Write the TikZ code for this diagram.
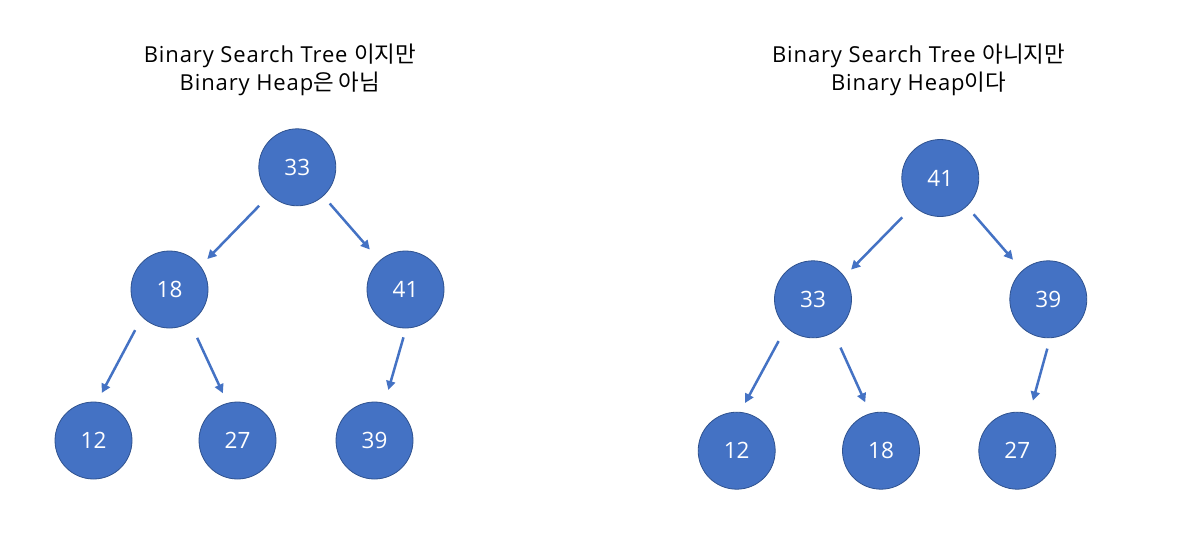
\documentclass[tikz,border=0pt]{standalone}
\usepackage{fontspec}
\setmainfont{Open Sans}
\newfontfamily\titlefont[LetterSpace=4]{Open Sans}
\newfontfamily\kr[Scale=1.02]{Noto Sans CJK KR}
\usetikzlibrary{arrows.meta}
\definecolor{nodefill}{HTML}{4472C4}
\definecolor{nodeline}{HTML}{2F528F}
\tikzset{
  treenode/.style={circle, fill=nodefill, draw=nodeline, line width=0.8pt,
    minimum size=77pt, inner sep=0pt, outer sep=0pt, text=white,
    font=\fontsize{22.5}{26}\selectfont},
  treearrow/.style={draw=nodefill, line width=2.5pt,
    -{Triangle[length=9pt,width=9pt]}},
  titletext/.style={align=center, font=\titlefont\fontsize{22}{28}\selectfont, text=black}
}
\begin{document}
\begin{tikzpicture}[x=1pt,y=-1pt]
\fill[white] (0,0) rectangle (1192,536);
\useasboundingbox (0,0) rectangle (1192,536);

% left tree
\node[titletext] (tl) at (280,70) {Binary Search Tree {\kr 이지만}\\Binary Heap{\kr 은 아님}};
\node[treenode] (a33) at (297.3,167.3) {33};
\node[treenode] (a18) at (169.5,289.5) {18};
\node[treenode] (a41) at (405.5,289.5) {41};
\node[treenode] (a12) at (93.5,440.5) {12};
\node[treenode] (a27) at (237.5,440.5) {27};
\node[treenode] (a39) at (374.5,440.5) {39};

\draw[treearrow, shorten <=15.7pt, shorten >=10.2pt] (a33.225) -- (a18.37);
\draw[treearrow, shorten <=10.1pt, shorten >=15.1pt] (a33.312) -- (a41.132);
\draw[treearrow, shorten <=15.2pt, shorten >=10.4pt] (a18.225) -- (a12.85);
\draw[treearrow, shorten <=17.3pt, shorten >=11.1pt] (a18.302) -- (a27.105);
\draw[treearrow, shorten <=9.7pt, shorten >=13.9pt] (a41.271) -- (a39.75);

% right tree
\node[titletext] (tr) at (918.5,70) {Binary Search Tree {\kr 아니지만}\\Binary Heap{\kr 이다}};
\node[treenode] (b41) at (940.3,178) {41};
\node[treenode] (b33) at (813,299.3) {33};
\node[treenode] (b39) at (1048.3,299.3) {39};
\node[treenode] (b12) at (736.7,450.7) {12};
\node[treenode] (b18) at (881,450.7) {18};
\node[treenode] (b27) at (1017.3,450.7) {27};

\draw[treearrow, shorten <=16.2pt, shorten >=9.9pt] (b41.226) -- (b33.36);
\draw[treearrow, shorten <=10.8pt, shorten >=14.5pt] (b41.313) -- (b39.132);
\draw[treearrow, shorten <=16pt, shorten >=10.7pt] (b33.226) -- (b12.85);
\draw[treearrow, shorten <=17.2pt, shorten >=12.5pt] (b33.302) -- (b18.106);
\draw[treearrow, shorten <=11.3pt, shorten >=14pt] (b39.273) -- (b27.72);
\end{tikzpicture}
\end{document}
